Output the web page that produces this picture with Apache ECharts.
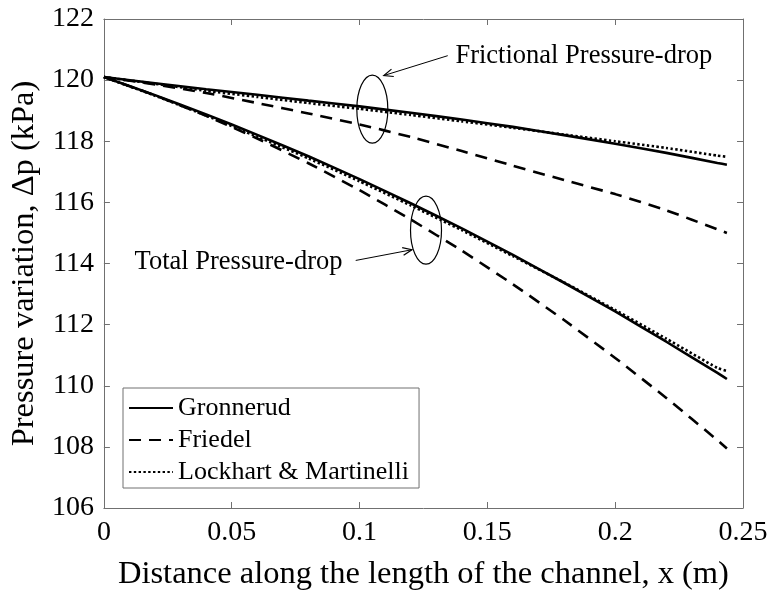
<!DOCTYPE html>
<html>
<head>
<meta charset="utf-8">
<script src="https://cdn.jsdelivr.net/npm/echarts@6/dist/echarts.min.js"></script>
<style>html,body{margin:0;padding:0;background:#fff}#c{width:771px;height:596px}</style>
</head>
<body>
<div id="c"></div>
<script>
// x positions (m)
var xs = [0, 0.02, 0.04, 0.06, 0.08, 0.10, 0.12, 0.14, 0.16, 0.18, 0.20, 0.22, 0.24, 0.2437];
// Total pressure-drop (kPa)
var totGronnerud = [120.10, 119.51, 118.88, 118.21, 117.51, 116.76, 115.97, 115.15, 114.28, 113.37, 112.43, 111.44, 110.42, 110.22];
var totFriedel   = [120.10, 119.50, 118.83, 118.09, 117.28, 116.40, 115.44, 114.42, 113.32, 112.15, 110.91, 109.60, 108.22, 107.95];
var totLM        = [120.10, 119.49, 118.84, 118.15, 117.44, 116.69, 115.90, 115.09, 114.24, 113.38, 112.48, 111.54, 110.58, 110.48];
// Frictional pressure-drop (kPa)
var frGronnerud  = [120.10, 119.90, 119.70, 119.52, 119.33, 119.14, 118.93, 118.71, 118.47, 118.20, 117.92, 117.62, 117.29, 117.23];
var frFriedel    = [120.10, 119.86, 119.58, 119.25, 118.91, 118.55, 118.14, 117.68, 117.20, 116.73, 116.27, 115.74, 115.12, 115.00];
var frLM         = [120.10, 119.88, 119.65, 119.45, 119.25, 119.06, 118.86, 118.65, 118.44, 118.22, 118.00, 117.78, 117.53, 117.49];
var seriesNames = ['Gronnerud', 'Friedel', 'Lockhart & Martinelli'];
var xTicks = [0, 0.05, 0.1, 0.15, 0.2, 0.25];
var yTicks = [106, 108, 110, 112, 114, 116, 118, 120, 122];
var annoText = ['Frictional Pressure-drop', 'Total Pressure-drop'];

var FONT = '"Liberation Serif","Times New Roman",serif';
var AX = '#707070';
function pairs(y) { return xs.map(function (x, i) { return [x, y[i]]; }); }
var styles = {
  'Gronnerud': {type: 'solid', width: 2.6},
  'Friedel': {type: [12, 8], width: 2.6},
  'Lockhart & Martinelli': {type: [2.4, 2.4], width: 2.6}
};
function mk(name, data) {
  return {
    name: name, type: 'line', data: pairs(data), symbol: 'none', smooth: 0.15,
    xAxisIndex: 0, yAxisIndex: 0, silent: true,
    lineStyle: {color: '#000', width: styles[name].width, type: styles[name].type},
    itemStyle: {color: '#000'}
  };
}
var chart = echarts.init(document.getElementById('c'));
var axisCommon = {
  axisLine: {show: true, onZero: false, lineStyle: {color: AX, width: 1}},
  axisTick: {show: true, inside: true, length: 6, lineStyle: {color: AX}},
  splitLine: {show: false}
};
chart.setOption({
  animation: false,
  textStyle: {fontFamily: FONT},
  grid: {left: 102, right: 28, top: 19, bottom: 84},
  legend: {
    orient: 'vertical', left: 123, top: 388,
    data: seriesNames,
    itemWidth: 44, itemHeight: 14, itemGap: 6,
    padding: [7, 10, 3, 5],
    borderColor: AX, borderWidth: 1, backgroundColor: '#fff',
    itemStyle: {opacity: 0},
    textStyle: {fontFamily: FONT, fontSize: 26, color: '#000', lineHeight: 26},
    selectedMode: false
  },
  xAxis: [
    Object.assign({}, axisCommon, {
      type: 'value', min: 0, max: 0.25, interval: 0.05, position: 'bottom',
      name: 'Distance along the length of the channel, x (m)',
      nameLocation: 'middle', nameGap: 50,
      nameTextStyle: {fontFamily: FONT, fontSize: 32.5, color: '#000'},
      axisLabel: {fontFamily: FONT, fontSize: 28, color: '#000', margin: 11,
        formatter: function (v) { return String(+v.toFixed(2)); }}
    }),
    Object.assign({}, axisCommon, {
      type: 'value', min: 0, max: 0.25, interval: 0.05, position: 'top',
      axisLabel: {show: false}
    })
  ],
  yAxis: [
    Object.assign({}, axisCommon, {
      type: 'value', min: 106, max: 122, interval: 2, position: 'left',
      name: 'Pressure variation, \u0394p (kPa)',
      nameLocation: 'middle', nameGap: 59,
      nameTextStyle: {fontFamily: FONT, fontSize: 32.5, color: '#000'},
      axisLabel: {fontFamily: FONT, fontSize: 28, color: '#000', margin: 10}
    }),
    Object.assign({}, axisCommon, {
      type: 'value', min: 106, max: 122, interval: 2, position: 'right',
      axisLabel: {show: false}
    })
  ],
  series: [
    mk('Gronnerud', totGronnerud),
    mk('Friedel', totFriedel),
    mk('Lockhart & Martinelli', totLM),
    mk('Gronnerud', frGronnerud),
    mk('Friedel', frFriedel),
    mk('Lockhart & Martinelli', frLM)
  ]
});

// annotations placed in data coordinates
var annos = [
  {ell: [0.105, 119.05], text: annoText[0], textAt: [0.1375, 120.8], align: 'left', from: [0.1345, 120.8], to: [0.1095, 120.15]},
  {ell: [0.126, 115.09], text: annoText[1], textAt: [0.012, 114.05], align: 'left', from: [0.0985, 114.1], to: [0.1205, 114.45]}
];
var g = [];
annos.forEach(function (a) {
  var c = chart.convertToPixel({gridIndex: 0}, a.ell);
  g.push({type: 'ellipse', shape: {cx: c[0], cy: c[1], rx: 15.5, ry: 34},
    style: {fill: 'none', stroke: '#000', lineWidth: 1.2}, z: 100});
  var t = chart.convertToPixel({gridIndex: 0}, a.textAt);
  g.push({type: 'text', x: t[0], y: t[1], z: 100,
    style: {text: a.text, font: '26.5px ' + FONT, fill: '#000', textAlign: a.align, textVerticalAlign: 'middle'}});
  var p0 = chart.convertToPixel({gridIndex: 0}, a.from);
  var p1 = chart.convertToPixel({gridIndex: 0}, a.to);
  g.push({type: 'line', shape: {x1: p0[0], y1: p0[1], x2: p1[0], y2: p1[1]},
    style: {stroke: '#000', lineWidth: 1}, z: 100});
  var ang = Math.atan2(p1[1] - p0[1], p1[0] - p0[0]);
  var L = 10, w = 0.4;
  g.push({type: 'polyline', z: 100, shape: {points: [
    [p1[0] - L * Math.cos(ang - w), p1[1] - L * Math.sin(ang - w)],
    [p1[0], p1[1]],
    [p1[0] - L * Math.cos(ang + w), p1[1] - L * Math.sin(ang + w)]
  ]}, style: {stroke: '#000', lineWidth: 1.2, fill: 'none'}});
});
chart.setOption({graphic: g});
</script>
</body>
</html>
